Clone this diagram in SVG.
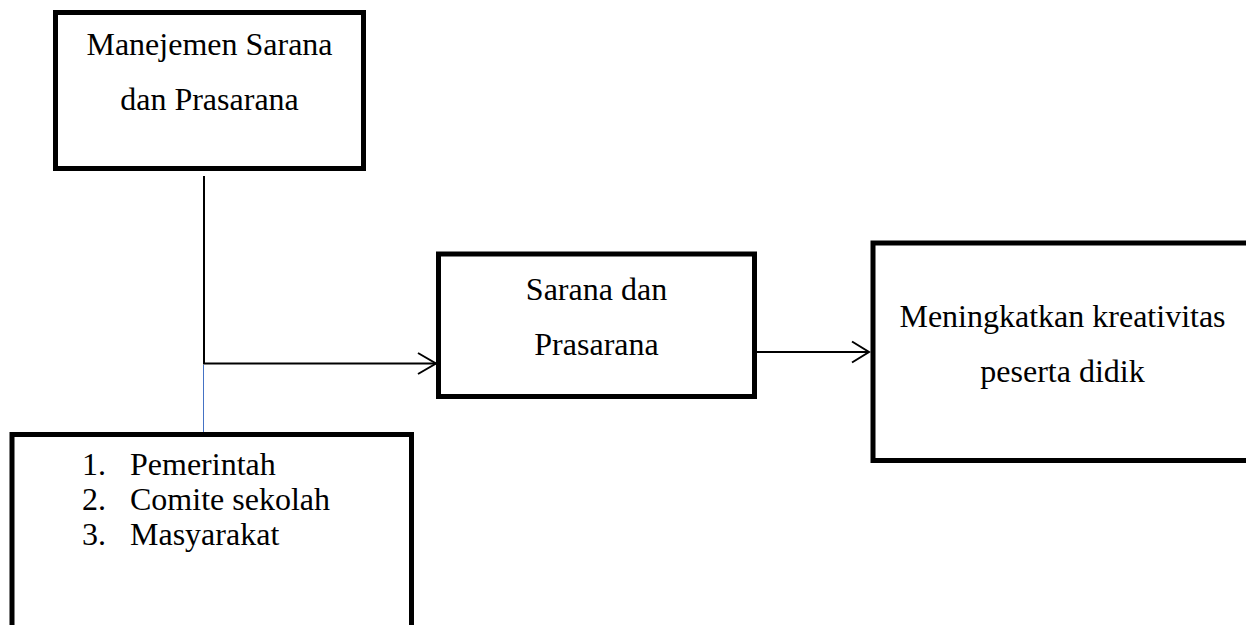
<svg xmlns="http://www.w3.org/2000/svg" width="1246" height="625" viewBox="0 0 1246 625">
<style>
.box{fill:#fff;stroke:#000;stroke-width:5}
.t{font-family:"Liberation Serif","Times New Roman",serif;font-size:32px;fill:#000}
.c{text-anchor:middle}
.ln{stroke:#000;stroke-width:2;fill:none}
</style>
<rect width="1246" height="625" fill="#fff"/>
<g id="connectors">
<line class="ln" x1="204" y1="176" x2="204" y2="363.5"/>
<line x1="203.5" y1="365" x2="203.5" y2="433" stroke="#4472C4" stroke-width="1"/>
<polyline class="ln" points="203,363.5 436,363.5"/>
<polyline class="ln" points="418,353 436,363.5 418,374"/>
<line class="ln" x1="757" y1="352" x2="869" y2="352"/>
<polyline class="ln" points="852,341.5 869,352 852,362.5"/>
</g>
<g id="node-manajemen">
<rect class="box" x="55.5" y="12.5" width="308" height="156"/>
<text class="t c" x="209.5" y="55">Manejemen Sarana</text>
<text class="t c" x="209.5" y="110">dan Prasarana</text>
</g>
<g id="node-sarana">
<rect class="box" x="438.5" y="254" width="316" height="142.5"/>
<text class="t c" x="596.5" y="300">Sarana dan</text>
<text class="t c" x="596.5" y="355">Prasarana</text>
</g>
<g id="node-kreativitas">
<rect class="box" x="873" y="243" width="400" height="217.5"/>
<text class="t c" x="1062.5" y="327">Meningkatkan kreativitas</text>
<text class="t c" x="1062.5" y="382">peserta didik</text>
</g>
<g id="node-sumber">
<rect class="box" x="12" y="434.5" width="399.5" height="220"/>
<text class="t" x="82" y="475">1.</text>
<text class="t" x="130" y="475">Pemerintah</text>
<text class="t" x="82" y="510">2.</text>
<text class="t" x="130" y="510">Comite sekolah</text>
<text class="t" x="82" y="545">3.</text>
<text class="t" x="130" y="545">Masyarakat</text>
</g>
</svg>
